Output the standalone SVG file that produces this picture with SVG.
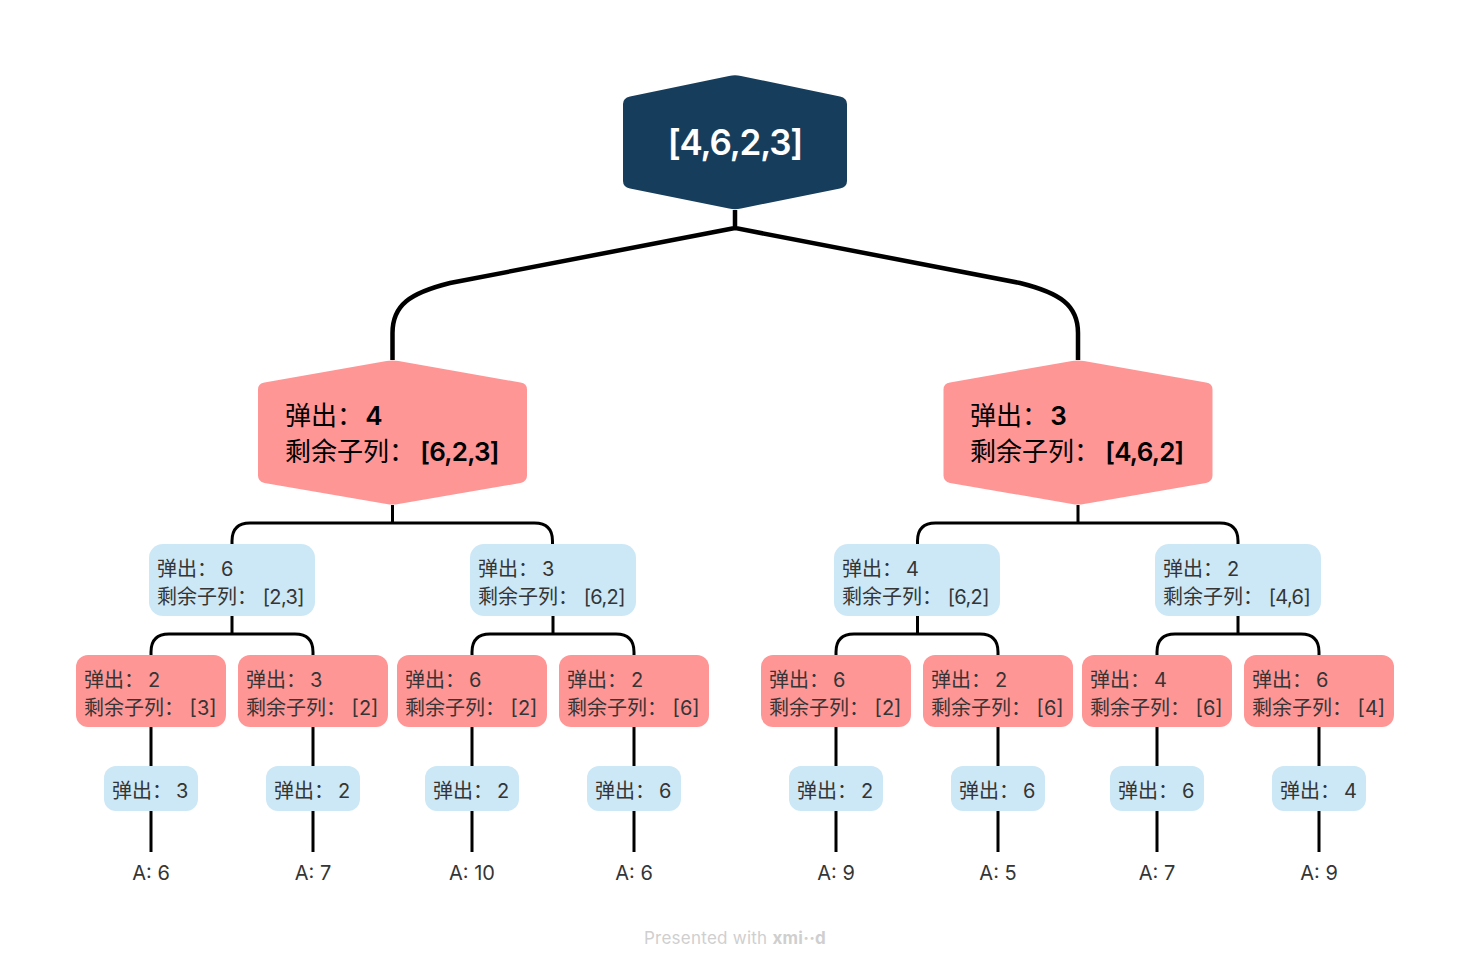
<svg xmlns="http://www.w3.org/2000/svg" width="1470" height="969" viewBox="0 0 1470 969">
<style>
text{font-family:"Inter","Noto Sans CJK SC",sans-serif;fill:#353535;font-size:20px}
.wire{fill:none;stroke:#000;stroke-width:3}
.thick{stroke-width:4.5}
.bg{fill:#fff}
.blue{fill:#cce8f6}
.red{fill:#ff9696}
.navy{fill:#163e5c}
.p{word-spacing:-1.500px}
.c{letter-spacing:-.6px}
.big text{font-size:26px;fill:#000}
.big text.q{word-spacing:-5px}
.big text.w{word-spacing:-2px}
.big tspan.v{font-weight:600;letter-spacing:-.8px}
.root{font-size:35px;fill:#fff;font-weight:600;text-anchor:middle;letter-spacing:-1.2px}
.leaf{text-anchor:middle}
.foot{font-size:17px;fill:#cfcfcf;text-anchor:middle;letter-spacing:.25px}
.foot tspan{font-weight:700}
</style>
<defs>
<path id="bigShape" d="M-6 -71.500Q0 -72.500 6 -71.500L128 -50Q134.500 -49 134.500 -43V43Q134.500 49 128 50.500L6 71.500Q0 72.500 -6 71.500L-128 50.500Q-134.500 49 -134.500 43V-43Q-134.500 -49 -128 -50Z"/>
<rect id="m" x="-83" y="0" width="166" height="72" rx="14"/>
<rect id="r" x="-75" y="0" width="150" height="72" rx="12"/>
<rect id="s" x="-47" y="0" width="94" height="45" rx="12"/>
</defs>
<rect class="bg" width="1470" height="969"/>
<g id="connectors">
<path class="wire thick" d="M735 210V228L1020 283C1060 293 1078 305 1078 333V360M735 228L450 283C410 293 392.500 305 392.500 333V360"/>
<path class="wire" d="M392.500 505V523M232 544V541Q232 523 250 523H534.500Q552.500 523 552.500 541V544"/>
<path class="wire" d="M1078 505V523M917.500 544V541Q917.500 523 935.500 523H1220Q1238 523 1238 541V544"/>
<path class="wire" d="M232 616V634M151 655V652Q151 634 169 634H295Q313 634 313 652V655"/>
<path class="wire" d="M553 616V634M472 655V652Q472 634 490 634H616Q634 634 634 652V655"/>
<path class="wire" d="M917.500 616V634M836 655V652Q836 634 854 634H980Q998 634 998 652V655"/>
<path class="wire" d="M1238 616V634M1157 655V652Q1157 634 1175 634H1301Q1319 634 1319 652V655"/>
<path class="wire" d="M151 727V766M151 811V852M313 727V766M313 811V852M472 727V766M472 811V852M634 727V766M634 811V852M836 727V766M836 811V852M998 727V766M998 811V852M1157 727V766M1157 811V852M1319 727V766M1319 811V852"/>
</g>
<g id="root"><path class="navy" d="M729 76Q735 74.700 741 76L840 96.500Q847 98 847 104V181Q847 187 840 188.500L741 208.500Q735 210 729 208.500L630 188.500Q623 187 623 181V104Q623 98 630 96.500Z"/><text class="root" x="735" y="155">[4,6,2,3]</text></g>

<g id="n1" class="big"><use href="#bigShape" class="red" x="392.500" y="432.500"/><text class="q" x="285" y="425">弹出： <tspan class="v">4</tspan></text><text class="w" x="285" y="461">剩余子列： <tspan class="v">[6,2,3]</tspan></text></g>
<g id="n2" class="big"><use href="#bigShape" class="red" x="1078" y="432.500"/><text class="q" x="970" y="425">弹出： <tspan class="v">3</tspan></text><text class="w" x="970" y="461">剩余子列： <tspan class="v">[4,6,2]</tspan></text></g>

<g id="n11"><use href="#m" class="blue" x="232" y="544"/><text class="p" x="157" y="576">弹出： 6</text><text x="157" y="604">剩余子列： <tspan class="c">[2,3]</tspan></text></g>
<g id="n12"><use href="#m" class="blue" x="553" y="544"/><text class="p" x="478" y="576">弹出： 3</text><text x="478" y="604">剩余子列： <tspan class="c">[6,2]</tspan></text></g>
<g id="n21"><use href="#m" class="blue" x="917" y="544"/><text class="p" x="842" y="576">弹出： 4</text><text x="842" y="604">剩余子列： <tspan class="c">[6,2]</tspan></text></g>
<g id="n22"><use href="#m" class="blue" x="1238" y="544"/><text class="p" x="1163" y="576">弹出： 2</text><text x="1163" y="604">剩余子列： <tspan class="c">[4,6]</tspan></text></g>

<g id="n111"><use href="#r" class="red" x="151" y="655"/><text class="p" x="84" y="687">弹出： 2</text><text x="84" y="715">剩余子列： [3]</text></g>
<g id="n112"><use href="#r" class="red" x="313" y="655"/><text class="p" x="246" y="687">弹出： 3</text><text x="246" y="715">剩余子列： [2]</text></g>
<g id="n121"><use href="#r" class="red" x="472" y="655"/><text class="p" x="405" y="687">弹出： 6</text><text x="405" y="715">剩余子列： [2]</text></g>
<g id="n122"><use href="#r" class="red" x="634" y="655"/><text class="p" x="567" y="687">弹出： 2</text><text x="567" y="715">剩余子列： [6]</text></g>
<g id="n211"><use href="#r" class="red" x="836" y="655"/><text class="p" x="769" y="687">弹出： 6</text><text x="769" y="715">剩余子列： [2]</text></g>
<g id="n212"><use href="#r" class="red" x="998" y="655"/><text class="p" x="931" y="687">弹出： 2</text><text x="931" y="715">剩余子列： [6]</text></g>
<g id="n221"><use href="#r" class="red" x="1157" y="655"/><text class="p" x="1090" y="687">弹出： 4</text><text x="1090" y="715">剩余子列： [6]</text></g>
<g id="n222"><use href="#r" class="red" x="1319" y="655"/><text class="p" x="1252" y="687">弹出： 6</text><text x="1252" y="715">剩余子列： [4]</text></g>

<g id="s111"><use href="#s" class="blue" x="151" y="766"/><text class="p" x="112" y="798">弹出： 3</text></g>
<g id="s112"><use href="#s" class="blue" x="313" y="766"/><text class="p" x="274" y="798">弹出： 2</text></g>
<g id="s121"><use href="#s" class="blue" x="472" y="766"/><text class="p" x="433" y="798">弹出： 2</text></g>
<g id="s122"><use href="#s" class="blue" x="634" y="766"/><text class="p" x="595" y="798">弹出： 6</text></g>
<g id="s211"><use href="#s" class="blue" x="836" y="766"/><text class="p" x="797" y="798">弹出： 2</text></g>
<g id="s212"><use href="#s" class="blue" x="998" y="766"/><text class="p" x="959" y="798">弹出： 6</text></g>
<g id="s221"><use href="#s" class="blue" x="1157" y="766"/><text class="p" x="1118" y="798">弹出： 6</text></g>
<g id="s222"><use href="#s" class="blue" x="1319" y="766"/><text class="p" x="1280" y="798">弹出： 4</text></g>

<g id="a1"><text class="leaf" x="151" y="880">A: 6</text></g>
<g id="a2"><text class="leaf" x="313" y="880">A: 7</text></g>
<g id="a3"><text class="leaf" x="472" y="880">A: 10</text></g>
<g id="a4"><text class="leaf" x="634" y="880">A: 6</text></g>
<g id="a5"><text class="leaf" x="836" y="880">A: 9</text></g>
<g id="a6"><text class="leaf" x="998" y="880">A: 5</text></g>
<g id="a7"><text class="leaf" x="1157" y="880">A: 7</text></g>
<g id="a8"><text class="leaf" x="1319" y="880">A: 9</text></g>

<text class="foot" x="735" y="944">Presented with <tspan>xmi··d</tspan></text>
</svg>
